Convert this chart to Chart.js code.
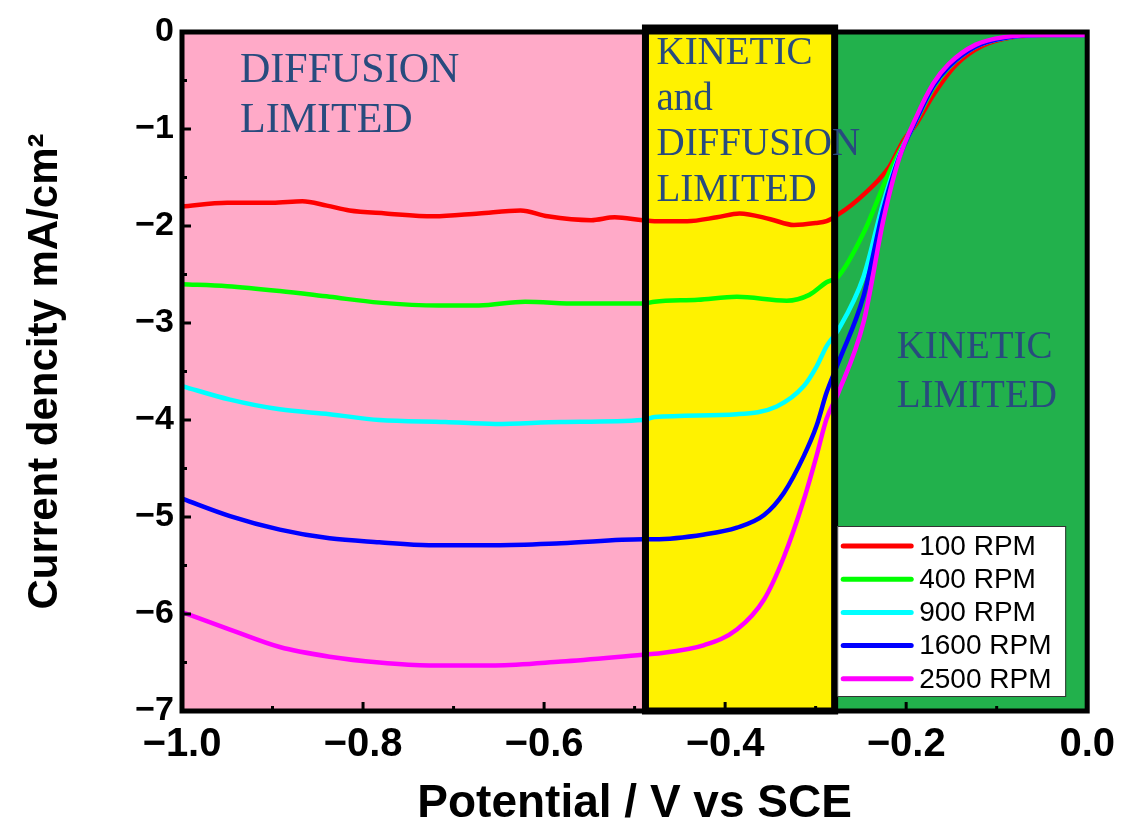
<!DOCTYPE html>
<html>
<head>
<meta charset="utf-8">
<script src="https://cdn.jsdelivr.net/npm/chart.js@4.4.0/dist/chart.umd.min.js"></script>
<style>
  html, body { margin: 0; padding: 0; background: #fff; }
  #wrap { width: 1125px; height: 835px; }
</style>
</head>
<body>
<div id="wrap"><canvas id="rdeChart"></canvas></div>
<script>
// rotation rates and line colours
const rpmLabels = ['100 RPM', '400 RPM', '900 RPM', '1600 RPM', '2500 RPM'];
const rpmColors = ['#ff0000', '#00ff00', '#00ffff', '#0000ff', '#ff00ff'];

// potential (V vs SCE) / current density (mA/cm2)
const potential100 = [-1.0, -0.95, -0.90, -0.867, -0.84, -0.815, -0.775, -0.722, -0.672, -0.626, -0.596, -0.548, -0.522, -0.491, -0.478, -0.442, -0.409, -0.384, -0.35, -0.324, -0.30, -0.288, -0.275, -0.26, -0.244, -0.23, -0.218, -0.203, -0.189, -0.17, -0.145, -0.115, -0.08, -0.04, 0];
const current100   = [-1.80, -1.76, -1.76, -1.745, -1.79, -1.84, -1.87, -1.90, -1.87, -1.84, -1.90, -1.94, -1.91, -1.94, -1.95, -1.95, -1.91, -1.87, -1.93, -1.99, -1.97, -1.95, -1.88, -1.78, -1.65, -1.52, -1.38, -1.12, -0.95, -0.65, -0.34, -0.14, -0.05, -0.03, -0.03];

const potential400 = [-1.0, -0.95, -0.892, -0.837, -0.782, -0.716, -0.672, -0.621, -0.563, -0.491, -0.478, -0.43, -0.387, -0.332, -0.307, -0.288, -0.275, -0.247, -0.219, -0.20, -0.189, -0.17, -0.153, -0.123, -0.09, -0.05, 0];
const current400   = [-2.60, -2.62, -2.67, -2.73, -2.79, -2.82, -2.82, -2.78, -2.80, -2.80, -2.78, -2.76, -2.73, -2.77, -2.71, -2.58, -2.52, -2.07, -1.45, -1.10, -0.92, -0.58, -0.37, -0.15, -0.06, -0.03, -0.03];

const potential900 = [-1.0, -0.947, -0.892, -0.837, -0.782, -0.709, -0.654, -0.581, -0.491, -0.478, -0.387, -0.343, -0.313, -0.299, -0.288, -0.275, -0.247, -0.225, -0.208, -0.189, -0.17, -0.153, -0.123, -0.09, -0.05, 0];
const current900   = [-3.65, -3.79, -3.89, -3.94, -4.00, -4.02, -4.04, -4.02, -4.00, -3.97, -3.94, -3.86, -3.65, -3.45, -3.24, -3.07, -2.52, -1.75, -1.28, -0.91, -0.56, -0.36, -0.15, -0.06, -0.03, -0.03];

const potential1600 = [-1.0, -0.947, -0.892, -0.837, -0.782, -0.727, -0.654, -0.581, -0.491, -0.478, -0.423, -0.387, -0.357, -0.335, -0.313, -0.299, -0.288, -0.275, -0.247, -0.225, -0.208, -0.189, -0.17, -0.153, -0.123, -0.09, -0.05, 0];
const current1600   = [-4.81, -4.99, -5.13, -5.22, -5.26, -5.29, -5.29, -5.27, -5.23, -5.23, -5.18, -5.11, -4.98, -4.75, -4.37, -4.06, -3.72, -3.41, -2.72, -1.82, -1.30, -0.91, -0.56, -0.36, -0.15, -0.06, -0.03, -0.03];

const potential2500 = [-1.0, -0.947, -0.892, -0.837, -0.782, -0.727, -0.654, -0.581, -0.491, -0.478, -0.423, -0.387, -0.357, -0.335, -0.313, -0.299, -0.288, -0.275, -0.247, -0.225, -0.208, -0.189, -0.17, -0.153, -0.123, -0.09, -0.05, 0];
const current2500   = [-5.98, -6.16, -6.34, -6.44, -6.50, -6.53, -6.53, -6.49, -6.42, -6.41, -6.32, -6.16, -5.85, -5.41, -4.82, -4.37, -3.99, -3.72, -2.99, -1.93, -1.31, -0.88, -0.53, -0.33, -0.13, -0.05, -0.03, -0.03];

const potentials = [potential100, potential400, potential900, potential1600, potential2500];
const currents = [current100, current400, current900, current1600, current2500];

// region boundaries on the potential axis and their names
const regionEdges = [-1.0, -0.488, -0.279, 0.0];
const regionColors = ['#ffaac8', '#fff200', '#22b14c'];
const regionNames = [
    ['DIFFUSION', 'LIMITED'],
    ['KINETIC', 'and', 'DIFFUSION', 'LIMITED'],
    ['KINETIC', 'LIMITED']
];

const xTicks = [-1.0, -0.8, -0.6, -0.4, -0.2, 0.0];
const yTicks = [-7, -6, -5, -4, -3, -2, -1, 0];

function fmtMinus(s) {
    return s.replace('-', '\u2212');
}

const regionPlugin = {
    id: 'regions',
    beforeDatasetsDraw(chart) {
        const { ctx, chartArea: a, scales: { x } } = chart;
        const px = regionEdges.map(v => x.getPixelForValue(v));
        ctx.save();
        regionColors.forEach((c, i) => {
            ctx.fillStyle = c;
            ctx.fillRect(px[i], a.top, px[i + 1] - px[i], a.bottom - a.top);
        });
        ctx.restore();
    },
    afterDatasetsDraw(chart) {
        const { ctx, chartArea: a, scales: { x, y } } = chart;
        const px = regionEdges.map(v => x.getPixelForValue(v));
        ctx.save();

        // outer frame
        ctx.strokeStyle = '#000';
        ctx.lineWidth = 5;
        ctx.strokeRect(a.left, a.top, a.right - a.left, a.bottom - a.top);

        // inner ticks
        ctx.lineWidth = 3;
        for (let v = -7; v <= 0.001; v += 0.5) {
            const len = Math.abs(v - Math.round(v)) < 0.01 ? 9 : 5;
            const yy = y.getPixelForValue(v);
            ctx.beginPath();
            ctx.moveTo(a.left, yy);
            ctx.lineTo(a.left + len, yy);
            ctx.stroke();
        }
        for (let i = 0; i <= 10; i++) {
            const v = -1 + i * 0.1;
            const len = i % 2 === 0 ? 9 : 5;
            const xx = x.getPixelForValue(v);
            ctx.beginPath();
            ctx.moveTo(xx, a.bottom);
            ctx.lineTo(xx, a.bottom - len);
            ctx.stroke();
        }

        // box around the mixed region
        ctx.lineWidth = 7;
        ctx.strokeRect(px[1], a.top - 4, px[2] - px[1], a.bottom - a.top + 4);

        // region names
        ctx.fillStyle = '#284b7e';
        ctx.textBaseline = 'alphabetic';
        ctx.textAlign = 'left';
        ctx.font = '42px "Liberation Serif", "Times New Roman", serif';
        regionNames[0].forEach((t, i) => ctx.fillText(t, a.left + 58, a.top + 50 + i * 50));
        ctx.font = '39px "Liberation Serif", "Times New Roman", serif';
        regionNames[1].forEach((t, i) => ctx.fillText(t, px[1] + 11, a.top + 32 + i * 45.7));
        regionNames[2].forEach((t, i) => ctx.fillText(t, px[2] + 62, a.top + 326 + i * 49));

        // legend
        const lx = a.right - 250, ly = a.bottom - 185, lw = 228, lh = 170;
        ctx.fillStyle = '#fff';
        ctx.fillRect(lx, ly, lw, lh);
        ctx.lineWidth = 1;
        ctx.strokeStyle = '#333';
        ctx.strokeRect(lx + 0.5, ly + 0.5, lw, lh);
        ctx.font = '28px "Liberation Sans", Arial, sans-serif';
        ctx.textBaseline = 'middle';
        chart.data.datasets.forEach((ds, i) => {
            const ry = ly + 20 + i * 33.2;
            ctx.strokeStyle = ds.borderColor;
            ctx.lineWidth = 5;
            ctx.lineCap = 'round';
            ctx.beginPath();
            ctx.moveTo(lx + 6, ry);
            ctx.lineTo(lx + 74, ry);
            ctx.stroke();
            ctx.fillStyle = '#000';
            ctx.fillText(ds.label, lx + 82, ry + 1);
        });
        ctx.restore();
    }
};

const datasets = rpmLabels.map((label, i) => ({
    label: label,
    data: potentials[i].map((p, j) => ({ x: p, y: currents[i][j] })),
    borderColor: rpmColors[i],
    backgroundColor: rpmColors[i],
    borderWidth: 4.5,
    pointRadius: 0,
    cubicInterpolationMode: 'monotone',
    order: rpmLabels.length - 1 - i,
    fill: false
}));

new Chart(document.getElementById('rdeChart'), {
    type: 'line',
    data: { datasets: datasets },
    plugins: [regionPlugin],
    options: {
        responsive: true,
        maintainAspectRatio: false,
        animation: false,
        devicePixelRatio: 1,
        layout: { padding: { top: 32, right: 33, left: 0, bottom: 0 } },
        plugins: {
            legend: { display: false },
            tooltip: { enabled: false }
        },
        scales: {
            x: {
                type: 'linear',
                min: -1,
                max: 0,
                afterBuildTicks(scale) {
                    scale.ticks = xTicks.map(v => ({ value: v }));
                },
                afterFit(scale) { scale.height = 124; },
                grid: { display: false, drawTicks: false },
                border: { display: false },
                ticks: {
                    color: '#000',
                    padding: 10,
                    maxRotation: 0,
                    font: { family: '"Liberation Sans", Arial, sans-serif', size: 40, weight: 'bold' },
                    callback: v => Math.abs(v) < 1e-9 ? '0.0' : fmtMinus(v.toFixed(1))
                },
                title: {
                    display: true,
                    text: 'Potential / V vs SCE',
                    color: '#000',
                    padding: { top: 0, bottom: 3 },
                    font: { family: '"Liberation Sans", Arial, sans-serif', size: 46, weight: 'bold' }
                }
            },
            y: {
                type: 'linear',
                min: -7,
                max: 0,
                afterBuildTicks(scale) {
                    scale.ticks = yTicks.map(v => ({ value: v }));
                },
                afterFit(scale) { scale.width = 182; },
                grid: { display: false, drawTicks: false },
                border: { display: false },
                ticks: {
                    color: '#000',
                    padding: 8,
                    font: { family: '"Liberation Sans", Arial, sans-serif', size: 34, weight: 'bold' },
                    callback: v => Math.abs(v) < 1e-9 ? '0' : fmtMinus(String(v))
                },
                title: {
                    display: true,
                    text: 'Current dencity mA/cm\u00b2',
                    color: '#000',
                    padding: { top: 20, bottom: 0 },
                    font: { family: '"Liberation Sans", Arial, sans-serif', size: 42, weight: 'bold' }
                }
            }
        }
    }
});
</script>
</body>
</html>
